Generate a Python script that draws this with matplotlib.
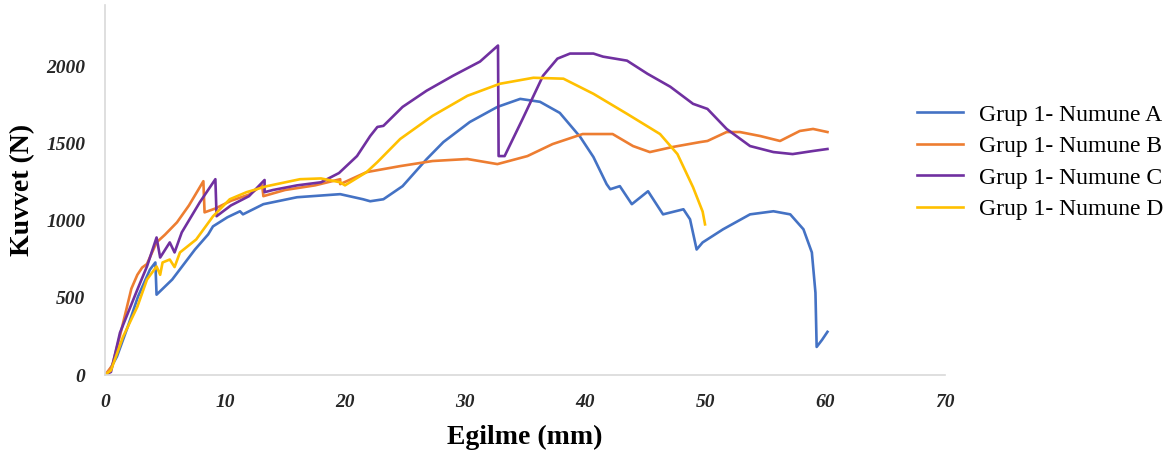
import matplotlib
matplotlib.use("Agg")
from matplotlib import pyplot as plt

plt.rcParams['font.family'] = ['Liberation Serif', 'DejaVu Serif']

# Grup 1 - Numune A (mavi)
a_x = [0, 0.25, 1.0, 1.9, 2.75, 3.75, 4.2, 4.3, 5.6, 7.5, 8.6, 9.0, 10.2, 11.25, 11.5, 13.2,
       16.0, 19.6, 21.5, 22.1, 23.2, 24.8, 26.8, 28.2, 30.4, 32.7, 34.6, 36.25, 37.9, 39.6,
       40.7, 41.8, 42.1, 42.9, 43.9, 45.25, 46.5, 48.2, 48.75, 49.3, 49.8, 51.5, 53.75, 55.7,
       57.1, 58.2, 58.9, 59.2, 59.3, 59.75, 60.2]
a_y = [0, 13, 120, 313, 508, 684, 730, 521, 619, 814, 912, 964, 1023, 1062, 1042, 1108,
       1153, 1173, 1140, 1127, 1140, 1225, 1400, 1511, 1641, 1739, 1791, 1772, 1700, 1544,
       1414, 1238, 1205, 1225, 1108, 1192, 1042, 1075, 1010, 814, 860, 945, 1042, 1062,
       1042, 945, 795, 534, 182, 228, 280]

# Grup 1 - Numune B (turuncu)
b_x = [0, 0.6, 1.3, 2.2, 2.7, 3.1, 3.5, 4.3, 5.0, 6.0, 7.0, 8.2, 8.3, 9.2, 10.5, 12.0, 13.1,
       13.2, 15.0, 17.5, 19.6, 19.6, 21.8, 24.6, 27.3, 30.2, 32.7, 35.2, 37.3, 39.8, 42.3,
       44.0, 45.4, 47.3, 49.6, 50.2, 51.8, 52.9, 54.6, 56.25, 57.9, 59.0, 60.2]
b_y = [0, 60, 270, 560, 650, 697, 720, 860, 910, 990, 1100, 1257, 1055, 1080, 1130, 1170, 1230,
       1160, 1200, 1230, 1270, 1238, 1316, 1355, 1388, 1401, 1368, 1420, 1498, 1563, 1563,
       1485, 1446, 1479, 1511, 1518, 1576, 1576, 1550, 1518, 1583, 1596, 1576]

# Grup 1 - Numune C (mor)
c_x = [0, 0.5, 1.25, 2.7, 3.5, 4.3, 4.6, 5.4, 5.8, 6.4, 7.9, 9.2, 9.3, 10.5, 12.0, 13.3,
       13.3, 14.0, 16.0, 18.0, 19.5, 21.0, 22.1, 22.7, 23.2, 24.8, 26.8, 29.0, 31.25, 32.75,
       32.8, 33.3, 34.8, 36.5, 37.7, 38.75, 40.7, 41.5, 43.5, 45.2, 47.1, 49.0, 50.2, 51.8,
       53.75, 55.7, 57.3, 59.0, 60.2]
c_y = [0, 20, 274, 554, 704, 892, 762, 860, 795, 925, 1120, 1270, 1030, 1100, 1160, 1265,
       1186, 1200, 1230, 1250, 1310, 1420, 1550, 1609, 1616, 1739, 1844, 1941, 2033, 2137,
       1420, 1420, 1661, 1941, 2052, 2085, 2085, 2065, 2039, 1954, 1870, 1759, 1726, 1596,
       1485, 1446, 1433, 1453, 1466]

# Grup 1 - Numune D (sari)
d_x = [0, 0.5, 1.5, 2.7, 3.5, 4.3, 4.6, 4.8, 5.4, 5.8, 6.25, 7.6, 9.0, 10.4, 11.8, 13.5,
       16.25, 18.0, 19.6, 20.0, 21.8, 22.7, 24.6, 27.3, 30.2, 32.9, 35.7, 38.2, 40.7, 43.5,
       46.25, 47.7, 49.0, 49.8, 50.0]
d_y = [0, 30, 247, 443, 619, 704, 650, 730, 749, 700, 795, 879, 1029, 1140, 1186, 1225,
       1270, 1275, 1250, 1230, 1316, 1381, 1531, 1681, 1811, 1889, 1928, 1922, 1824, 1694,
       1563, 1433, 1218, 1060, 977]

names = ['Grup 1- Numune A', 'Grup 1- Numune B', 'Grup 1- Numune C', 'Grup 1- Numune D']
colors = ['#4472C4', '#ED7D31', '#7030A0', '#FFC000']

fig = plt.figure(figsize=(11.74, 4.54), dpi=100)
ax = fig.add_axes([0.0894, 0.174, 0.7156, 0.815])

for xs, ys, name, col in zip([a_x, b_x, c_x, d_x], [a_y, b_y, c_y, d_y], names, colors):
    ax.plot(xs, ys, color=col, lw=1.9, label=name, solid_joinstyle='round')

ax.set_xlim(0, 70)
ax.set_ylim(0, 2400)
ax.set_xticks(range(0, 71, 10))
ax.set_yticks(range(0, 2001, 500))
for s in ['top', 'right']:
    ax.spines[s].set_visible(False)
for s in ['left', 'bottom']:
    ax.spines[s].set_color('#d9d9d9')
    ax.spines[s].set_linewidth(1.2)
ax.tick_params(axis='x', length=0, pad=14, labelsize=14)
ax.tick_params(axis='y', length=0, pad=14, labelsize=14)
for lab in ax.get_xticklabels() + ax.get_yticklabels():
    lab.set_fontweight('bold')
    lab.set_fontstyle('italic')
    lab.set_color('#262626')

ax.set_xlabel('Egilme (mm)', fontsize=20, fontweight='bold', labelpad=10)
ax.set_ylabel('Kuvvet (N)', fontsize=20, fontweight='bold', labelpad=8)

fig.legend(loc='center left', bbox_to_anchor=(0.781, 0.643), frameon=False, fontsize=17,
           handlelength=1.95, handletextpad=0.7, labelspacing=0.42,
           borderpad=0, borderaxespad=0)

fig.savefig('out.png', dpi=100)
